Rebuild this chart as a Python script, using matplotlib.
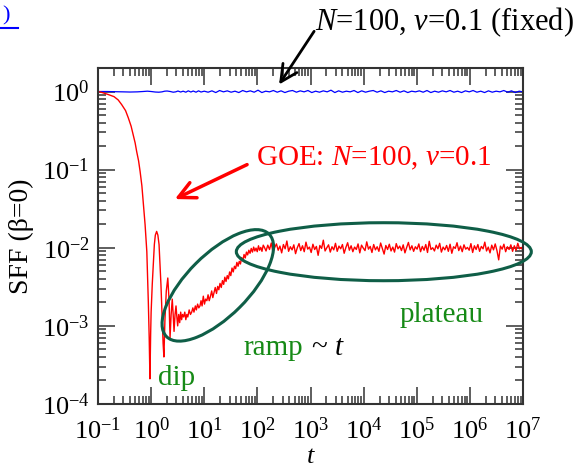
import numpy as np
import matplotlib
matplotlib.use("Agg")
import matplotlib.pyplot as plt
from matplotlib.patches import Ellipse
from matplotlib.transforms import ScaledTranslation
from matplotlib.ticker import LogLocator, NullFormatter

plt.rcParams['font.family'] = ['Liberation Serif', 'DejaVu Serif']
plt.rcParams['mathtext.fontset'] = 'custom'
plt.rcParams['mathtext.rm'] = 'Liberation Serif'
plt.rcParams['mathtext.it'] = 'Liberation Serif:italic'
plt.rcParams['axes.unicode_minus'] = False

# --- GOE curve: slope + dip ---
goe_t_early = [0.1, 0.12, 0.156, 0.2, 0.24, 0.279, 0.33, 0.372, 0.42, 0.46, 0.5, 0.535,
               0.58, 0.62, 0.67, 0.71, 0.77, 0.83, 0.886, 0.92, 0.95, 0.98, 1.0, 1.05,
               1.15, 1.2, 1.27, 1.34, 1.41, 1.53, 1.62, 1.68, 1.74, 1.82, 1.93, 2.06,
               2.17, 2.27, 2.38, 2.5, 2.6, 2.7, 2.82, 2.94, 3.05, 3.16, 3.3, 3.45, 3.6,
               3.75, 3.9]
goe_sff_early = [1.0, 0.97, 0.915, 0.86, 0.78, 0.68, 0.57, 0.46, 0.36, 0.28, 0.22, 0.17,
                 0.13, 0.095, 0.062, 0.039, 0.0197, 0.0089, 0.002, 0.0007, 0.00021, 0.0008,
                 0.0015, 0.0034, 0.011, 0.0145, 0.0162, 0.0145, 0.011, 0.0034, 0.0012,
                 0.0006, 0.0004, 0.0012, 0.0028, 0.0041, 0.0022, 0.0007, 0.0014, 0.0022,
                 0.0014, 0.00085, 0.0014, 0.0018, 0.0013, 0.001, 0.0014, 0.0011, 0.0015,
                 0.0012, 0.0014]

# ramp ~ t
goe_t_ramp = [4.1, 4.3, 4.5, 4.7, 4.9, 5.2, 5.5, 5.8, 6.1, 6.4, 6.8, 7.1, 7.5, 7.9, 8.3,
              8.7, 9.1, 9.6, 10.1, 10.6, 11.2, 11.8, 12.4, 13.1, 13.8, 14.5, 15.3, 16.1,
              17.0, 17.9, 18.8, 19.8, 20.9, 22.0, 23.2, 24.4, 25.7, 27.1, 28.5, 30.0,
              31.6, 33.3, 35.1, 37.0, 39.0, 41.1, 43.3, 45.6, 48.0, 50.6, 53.3, 56.1,
              59.1, 62.3, 65.6, 69.1, 72.8, 76.7, 80.8, 85.1, 89.6, 94.4, 99.4, 105,
              110, 116, 122, 129]
goe_sff_ramp = [0.0013, 0.0015, 0.0012, 0.0014, 0.0013, 0.0016, 0.0014, 0.0015, 0.0017,
                0.0015, 0.0018, 0.0016, 0.0019, 0.0017, 0.0018, 0.0021, 0.0018, 0.0024,
                0.0019, 0.0022, 0.0021, 0.0025, 0.0021, 0.0024, 0.0028, 0.0023, 0.0027,
                0.0031, 0.0026, 0.0032, 0.0029, 0.0035, 0.0031, 0.0038, 0.0034, 0.0042,
                0.0037, 0.0044, 0.0040, 0.0049, 0.0044, 0.0055, 0.0049, 0.0058, 0.0054,
                0.0065, 0.0058, 0.0067, 0.0062, 0.0075, 0.0068, 0.0082, 0.0074, 0.0088,
                0.0081, 0.0093, 0.0085, 0.0098, 0.0088, 0.0102, 0.0091, 0.0099, 0.0089,
                0.0106, 0.0093, 0.0101, 0.0090, 0.0108]

# plateau, in units of 1e-2
goe_plateau = [1.02, 0.91, 1.08, 0.95, 1.15, 0.88, 1.01, 1.12, 0.93, 1.05, 0.86, 1.10, 0.97,
               1.22, 0.90, 1.03, 0.94, 1.09, 0.84, 1.00, 1.13, 0.92, 1.06, 0.89, 1.18, 0.96,
               1.02, 0.87, 1.11, 0.95, 1.04, 0.80, 1.07, 0.98, 1.25, 0.91, 1.00, 1.09, 0.88,
               1.03, 0.94, 1.14, 0.90, 1.05, 0.97, 1.10, 0.85, 1.01, 1.16, 0.93, 1.06, 0.89,
               1.02, 0.95, 1.12, 0.86, 1.08, 0.99, 0.92, 1.19, 0.96, 1.04, 0.87, 1.10, 0.94,
               1.03, 0.90, 1.15, 0.98, 0.83, 1.07, 0.95, 1.11, 0.91, 1.02, 0.88, 1.13, 0.97,
               1.05, 0.92, 1.09, 0.86, 1.01, 1.17, 0.94, 1.06, 0.90, 1.03, 0.96, 1.12, 0.89,
               1.04, 0.93, 1.10, 0.87, 1.21, 0.95, 1.00, 0.91, 1.08, 0.97, 1.14, 0.88, 1.02,
               0.94, 1.07, 0.90, 1.11, 0.85, 1.03, 0.98, 1.16, 0.92, 1.05, 0.89, 1.09, 0.96,
               1.01, 0.93, 1.13, 0.87, 1.06, 0.95, 1.10, 0.90, 1.04, 0.97, 1.18, 0.91, 1.02,
               0.86, 1.08, 0.94, 1.12, 0.92, 0.70, 1.05, 0.96, 1.11, 0.89, 1.03, 0.95, 1.09,
               0.90, 1.06, 0.93, 1.14, 0.97, 1.01, 0.92]
goe_t_plateau = np.geomspace(135, 1e7, len(goe_plateau))

# --- fixed (blue) curve ---
fixed_t_early = [0.1, 0.15, 0.2, 0.3, 0.4, 0.55, 0.7, 0.85, 1.0, 1.2, 1.4, 1.6, 1.8, 2.0,
                 2.3, 2.6, 2.9, 3.2, 3.6, 4.0, 4.5, 5.0, 5.6, 6.2, 7.0, 7.8, 8.7]
fixed_sff_early = [1.0, 1.0, 0.995, 0.99, 0.985, 0.99, 1.0, 1.01, 1.0, 0.985, 0.98, 0.99,
                   1.01, 1.015, 1.0, 0.98, 0.99, 1.015, 0.985, 1.01, 0.98, 1.02, 0.985,
                   1.015, 0.98, 1.02, 0.985]
fixed_noise = [1.01, 0.98, 1.02, 0.97, 1.03, 0.99, 1.02, 0.98, 1.01, 0.97, 1.03, 0.99,
               1.02, 0.98, 1.04, 0.97, 1.01, 0.99, 1.03, 0.98, 1.02, 0.97, 1.01, 1.03,
               0.98, 1.02, 0.99, 1.03, 0.97, 1.01, 0.98, 1.02, 0.99, 1.04, 0.97, 1.02,
               0.98, 1.01, 0.99, 1.03, 0.97, 1.02, 0.98, 1.01, 1.03, 0.98, 1.02, 0.97,
               1.01, 0.99, 1.03, 0.98, 1.02, 0.97, 1.01, 0.99, 1.02, 0.98, 1.03, 0.97,
               1.01, 0.98, 1.02, 0.99, 1.03, 0.98, 1.01, 0.97, 1.02, 0.99, 1.03, 0.98,
               1.01, 0.97, 1.02, 0.98, 1.01, 0.99, 1.03, 0.98, 1.02, 0.97, 1.01, 0.99]
fixed_t_noise = np.geomspace(10, 1e7, len(fixed_noise))

goe_t = np.concatenate([goe_t_early, goe_t_ramp, goe_t_plateau])
goe_sff = np.concatenate([goe_sff_early, goe_sff_ramp, np.array(goe_plateau) * 1e-2])
fixed_t = np.concatenate([fixed_t_early, fixed_t_noise])
fixed_sff = np.concatenate([fixed_sff_early, fixed_noise])

W, H = 578, 470
fig = plt.figure(figsize=(W / 100, H / 100), dpi=100)
ax = fig.add_axes([98 / W, 1 - 404 / H, (523 - 98) / W, (404 - 68) / H])


def px(x, y):
    # figure pixel -> figure fraction
    return (x / W, 1 - y / H)


ax.plot(fixed_t, fixed_sff, color='blue', lw=0.9)
ax.plot(goe_t, goe_sff, color='red', lw=1.0)

ax.set_xscale('log')
ax.set_yscale('log')
ax.set_xlim(0.1, 1e7)
ax.set_ylim(1e-4, 2.0)

ax.xaxis.set_major_locator(LogLocator(base=10, numticks=20))
ax.xaxis.set_minor_locator(LogLocator(base=10, subs=np.arange(2, 10), numticks=100))
ax.yaxis.set_major_locator(LogLocator(base=10, numticks=20))
ax.yaxis.set_minor_locator(LogLocator(base=10, subs=np.arange(2, 10), numticks=100))
ax.xaxis.set_minor_formatter(NullFormatter())
ax.yaxis.set_minor_formatter(NullFormatter())

ax.tick_params(which='both', direction='in', top=True, right=True, width=1.1, color='#333333')
ax.tick_params(which='major', length=12, labelsize=19, pad=6)
ax.tick_params(axis='x', which='major', pad=10)
ax.tick_params(which='minor', length=6)
for s in ax.spines.values():
    s.set_linewidth(1.5)
    s.set_color('#333333')

ax.set_ylabel('SFF (β=0)', fontsize=20)
ax.yaxis.set_label_coords(-0.15, 0.5)
ax.set_xlabel('$t$', fontsize=19)
ax.xaxis.set_label_coords(0.5, -0.124)

# annotations
dark_green = '#0f5e47'
text_green = '#168a16'


def ellipse_at(t, v, w_px, h_px, angle):
    tr = fig.dpi_scale_trans + ScaledTranslation(t, v, ax.transData)
    e = Ellipse((0, 0), w_px / 100, h_px / 100, angle=angle, transform=tr,
                fill=False, edgecolor=dark_green, lw=2.2, clip_on=False)
    fig.add_artist(e)


ellipse_at(18, 0.0033, 145, 62, 45)
ellipse_at(2.4e4, 0.0089, 295, 58, 0)

fig.text(*px(158, 385), 'dip', color=text_green, fontsize=21, va='baseline')
fig.text(*px(243, 355), 'ramp', color=text_green, fontsize=21, va='baseline')
fig.text(*px(311, 355), '~ $t$', color='black', fontsize=21, va='baseline')
fig.text(*px(400, 322), 'plateau', color=text_green, fontsize=21, va='baseline')

fig.text(*px(256, 158), 'GOE: $N$=100, $v$=0.1', color='red', fontsize=21, va='center')
ax.annotate('', xy=(2.8, 0.042), xytext=(64, 0.116),
            arrowprops=dict(arrowstyle='->,head_length=0.6,head_width=0.3',
                            color='red', lw=2.5, mutation_scale=20, shrinkA=0, shrinkB=0))

fig.text(*px(315, 22), '$N$=100, $v$=0.1 (fixed)', color='black', fontsize=22, va='center')
ax.annotate('', xy=(256, 1.23), xytext=(1170, 5.9), annotation_clip=False,
            arrowprops=dict(arrowstyle='->,head_length=0.6,head_width=0.3',
                            color='black', lw=2.0, mutation_scale=20, shrinkA=0, shrinkB=0))

# stray link fragment at top-left
fig.text(*px(2, 16), ')', color='blue', fontsize=16, va='center')
fig.add_artist(plt.Line2D([0, 18 / W], [1 - 28 / H, 1 - 28 / H], color='blue', lw=1.5,
                          transform=fig.transFigure))

fig.savefig('out.png', dpi=100)
